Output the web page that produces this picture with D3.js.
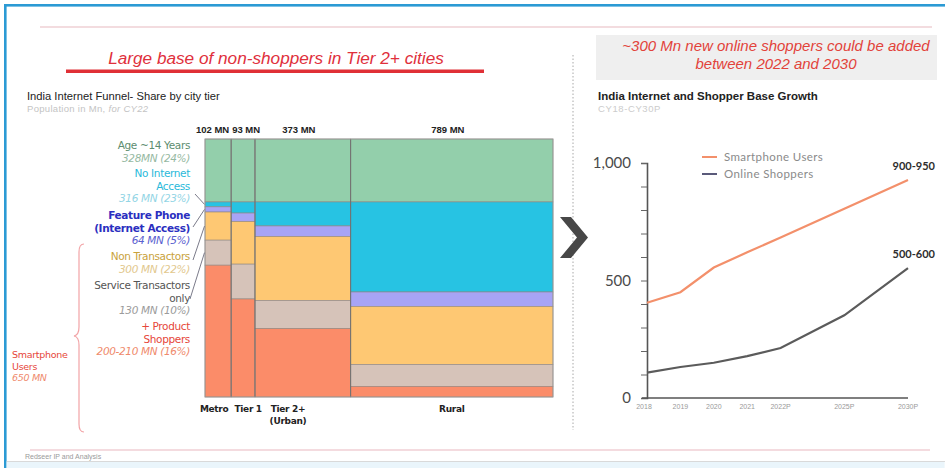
<!DOCTYPE html>
<html>
<head>
<meta charset="utf-8">
<script src="https://cdn.jsdelivr.net/npm/d3@7"></script>
<style>
  html, body { margin: 0; padding: 0; background: #fff; }
  svg { display: block; font-family: "Liberation Sans", Arial, sans-serif; }
</style>
</head>
<body>
<svg id="chart" width="945" height="468"></svg>
<script>
// ---- Funnel (mosaic) data: population per city tier, CY22 ----
const tiers = ["Metro", "Tier 1", "Tier 2+", "Rural"];
const tierPopulation = [102, 93, 373, 789];
const tierTopLabels = ["102 MN", "93 MN", "373 MN", "789 MN"];
const segments = ["Age ~14 Years", "No Internet Access", "Feature Phone", "Non Transactors", "Service Transactors only", "Product Shoppers"];
// share (%) of each segment within a tier, top to bottom
const metroShare = [24.4, 1.9, 2.0, 10.9, 9.7, 51.1];
const tier1Share = [24.4, 4.3, 3.3, 16.5, 13.5, 38.0];
const tier2Share = [24.4, 9.3, 4.1, 24.8, 10.9, 26.5];
const ruralShare = [24.4, 34.9, 5.6, 22.5, 8.5, 4.1];
const segmentTotals = ["328MN (24%)", "316 MN (23%)", "64 MN (5%)", "300 MN (22%)", "130 MN (10%)", "200-210 MN (16%)"];

// ---- Growth data: CY18 - CY30P (Mn) ----
const years = [2018, 2019, 2020, 2021, 2022, 2025, 2030];
const yearLabels = ["2018", "2019", "2020", "2021", "2022P", "2025P", "2030P"];
const smartphoneUsers = [405, 450, 555, 620, 683, 805, 928];
const onlineShoppers = [108, 132, 150, 178, 213, 352, 553];
const endLabels = ["900-950", "500-600"];

const svg = d3.select("#chart");
const WIDE = '"DejaVu Sans", Verdana, sans-serif';

// ---- page frame ----
svg.append("rect").attr("x", 0).attr("y", 0).attr("width", 945).attr("height", 468).attr("fill", "#fff");
svg.append("rect").attr("x", 4).attr("y", 4).attr("width", 941).attr("height", 2.6).attr("fill", "#2b9ad4");
svg.append("rect").attr("x", 4).attr("y", 4).attr("width", 2.6).attr("height", 464).attr("fill", "#2b9ad4");
svg.append("rect").attr("x", 6.6).attr("y", 462).attr("width", 938).attr("height", 6).attr("fill", "#eaf5fb");
svg.append("line").attr("x1", 6.6).attr("x2", 945).attr("y1", 461.5).attr("y2", 461.5).attr("stroke", "#d9d9d9");
svg.append("line").attr("x1", 40).attr("x2", 932).attr("y1", 27).attr("y2", 27).attr("stroke", "#e8b9c0").attr("stroke-width", 1.2);
svg.append("line").attr("x1", 30).attr("x2", 930).attr("y1", 450).attr("y2", 450).attr("stroke", "#eab8bf").attr("stroke-width", 1.2);
svg.append("text").attr("x", 25).attr("y", 459).attr("font-size", 7).attr("fill", "#9a9a9a").text("Redseer IP and Analysis");

// dashed divider between the two panels
svg.append("line").attr("x1", 573).attr("x2", 573).attr("y1", 55).attr("y2", 430)
  .attr("stroke", "#a8a8a8").attr("stroke-dasharray", "1.5,2");

// ---- left panel headline ----
svg.append("text").attr("x", 276).attr("y", 64).attr("text-anchor", "middle")
  .attr("font-size", 17.2).attr("font-style", "italic").attr("fill", "#e0303c")
  .text("Large  base of non-shoppers in Tier 2+ cities");
svg.append("rect").attr("x", 66).attr("y", 69.5).attr("width", 418).attr("height", 3.5).attr("fill", "#e03036");

svg.append("text").attr("x", 27).attr("y", 100).attr("font-size", 11.2).attr("fill", "#222")
  .text("India Internet Funnel- Share by city tier");
svg.append("text").attr("x", 27).attr("y", 111.5).attr("font-size", 9.5).attr("letter-spacing", 0.3).attr("fill", "#c4c4c4")
  .html('Population in Mn, <tspan font-style="italic">for CY22</tspan>');

// ---- mosaic ----
const shares = [metroShare, tier1Share, tier2Share, ruralShare];
const segColors = ["#93cfab", "#27c3e3", "#a8a4f5", "#fec873", "#d6c3b9", "#fb8c69"];
const totalPop = d3.sum(tierPopulation);
const xM = d3.scaleLinear().domain([0, totalPop]).range([205, 553]);
const yM = d3.scaleLinear().domain([0, 100]).range([139, 397]);
const cumPop = d3.cumsum([0].concat(tierPopulation));

const cells = [];
tiers.forEach((t, i) => {
  const cum = d3.cumsum([0].concat(shares[i]));
  shares[i].forEach((s, j) => {
    cells.push({ tier: i, seg: j, x0: cumPop[i], x1: cumPop[i + 1], y0: cum[j], y1: cum[j + 1] });
  });
});

const mosaic = svg.append("g");
mosaic.selectAll("rect.cell").data(cells).join("rect")
  .attr("class", "cell")
  .attr("x", d => xM(d.x0)).attr("width", d => xM(d.x1) - xM(d.x0))
  .attr("y", d => yM(d.y0)).attr("height", d => yM(d.y1) - yM(d.y0))
  .attr("fill", d => segColors[d.seg])
  .attr("stroke", "#8f8680").attr("stroke-width", 0.6);

// column dividers
mosaic.selectAll("line.col").data(cumPop.slice(1, -1)).join("line")
  .attr("class", "col")
  .attr("x1", d => xM(d)).attr("x2", d => xM(d))
  .attr("y1", yM(0)).attr("y2", yM(100))
  .attr("stroke", "#6f6f6f").attr("stroke-width", 1);
mosaic.append("rect").attr("x", xM(0)).attr("y", yM(0))
  .attr("width", xM(totalPop) - xM(0)).attr("height", yM(100) - yM(0))
  .attr("fill", "none").attr("stroke", "#9a9a9a").attr("stroke-width", 0.8);

// population labels above each column
const anchors = ["end", "start", "middle", "middle"];
svg.selectAll("text.pop").data(tierTopLabels).join("text")
  .attr("class", "pop")
  .attr("x", (d, i) => anchors[i] === "end" ? xM(cumPop[i + 1]) - 2 : anchors[i] === "start" ? xM(cumPop[i]) + 1 : (xM(cumPop[i]) + xM(cumPop[i + 1])) / 2 - 4)
  .attr("y", 133).attr("text-anchor", (d, i) => anchors[i])
  .attr("font-size", 9.5).attr("font-weight", "bold").attr("fill", "#222")
  .text(d => d);

// tier names below
const tierLines = [["Metro"], ["Tier 1"], ["Tier 2+", "(Urban)"], ["Rural"]];
const tierLabelX = tiers.map((t, i) => i === 0 ? xM(cumPop[1]) - 17 : i === 1 ? xM(cumPop[1]) + 17 : i === 2 ? xM(cumPop[2]) + 33 : (xM(cumPop[3]) + xM(cumPop[4])) / 2);
tierLines.forEach((lines, i) => {
  const t = svg.append("text").attr("x", tierLabelX[i]).attr("y", 411.5).attr("text-anchor", "middle")
    .attr("font-family", WIDE).attr("font-size", 9).attr("font-weight", "bold")
    .attr("letter-spacing", -0.3).attr("fill", "#222");
  lines.forEach((l, k) => t.append("tspan").attr("x", tierLabelX[i]).attr("dy", k ? 12 : 0).text(l));
});

// segment labels on the left of the mosaic
const segLabelLines = [["Age ~14 Years"], ["No Internet", "Access"], ["Feature Phone", "(Internet Access)"], ["Non Transactors"], ["Service Transactors", "only"], ["+ Product", "Shoppers"]];
const segLabelColor = ["#5d8d70", "#2ab9da", "#2b2fc0", "#c9a23c", "#555555", "#e6463a"];
const segValueColor = ["#96b9a2", "#93d5e5", "#5a60cf", "#e2c88e", "#9b9b9b", "#ef8a6c"];
const segLabelTop = [149, 177, 219, 260, 289, 330];
const lineStep = 12.5;
segLabelLines.forEach((lines, j) => {
  const g = svg.append("g").attr("font-family", WIDE);
  lines.forEach((l, k) => {
    g.append("text").attr("x", 190).attr("y", segLabelTop[j] + k * lineStep).attr("text-anchor", "end")
      .attr("font-size", 10.5).attr("letter-spacing", -0.35)
      .attr("font-weight", j === 2 ? "bold" : "normal").attr("fill", segLabelColor[j]).text(l);
  });
  g.append("text").attr("x", 190).attr("y", segLabelTop[j] + lines.length * lineStep).attr("text-anchor", "end")
    .attr("font-size", 10.5).attr("letter-spacing", -0.35)
    .attr("font-style", "italic").attr("fill", segValueColor[j]).text(segmentTotals[j]);
});

// connectors from labels to the Metro column
const metroCum = d3.cumsum([0].concat(metroShare));
const connectors = [
  { seg: 1, from: [195, 194] },
  { seg: 2, from: [193, 227] },
  { seg: 3, from: [193, 260] },
  { seg: 4, from: [190, 299] }
];
svg.selectAll("line.conn").data(connectors).join("line")
  .attr("class", "conn")
  .attr("x1", d => d.from[0]).attr("y1", d => d.from[1])
  .attr("x2", xM(0) - 0.5).attr("y2", d => yM((metroCum[d.seg] + metroCum[d.seg + 1]) / 2))
  .attr("stroke", "#7b7b8a").attr("stroke-width", 1);

// smartphone users brace
svg.append("path")
  .attr("d", "M84,244 Q79,244 79,252 L79,327 Q79,335 74,336 Q79,337 79,345 L79,424 Q79,432 84,432")
  .attr("fill", "none").attr("stroke", "#f2a3a6").attr("stroke-width", 1.2);
const su = svg.append("g").attr("font-size", 9.5).attr("font-family", WIDE).attr("letter-spacing", -0.3);
su.append("text").attr("x", 12).attr("y", 358).attr("fill", "#e6463a").text("Smartphone");
su.append("text").attr("x", 12).attr("y", 369.5).attr("fill", "#e6463a").text("Users");
su.append("text").attr("x", 12).attr("y", 381).attr("fill", "#ef8a6c").attr("font-style", "italic").text("650 MN");

// chevron between panels
svg.append("path").attr("d", "M560,217 L571,217 L588,237.5 L571,258 L560,258 L577,237.5 Z").attr("fill", "#474747");

// ---- right panel headline box ----
svg.append("rect").attr("x", 596).attr("y", 35).attr("width", 341).attr("height", 45).attr("fill", "#efefef");
const hl = svg.append("text").attr("text-anchor", "middle").attr("font-size", 15)
  .attr("font-style", "italic").attr("fill", "#e2423a");
hl.append("tspan").attr("x", 776).attr("y", 51).text("~300 Mn new online shoppers could be added");
hl.append("tspan").attr("x", 776).attr("y", 69).text("between 2022 and 2030");

svg.append("text").attr("x", 598).attr("y", 99.5).attr("font-size", 11.5).attr("font-weight", "bold")
  .attr("fill", "#222").text("India Internet and Shopper Base Growth");
svg.append("text").attr("x", 598).attr("y", 111.5).attr("font-size", 9.5).attr("letter-spacing", 0.6)
  .attr("fill", "#cccccc").text("CY18-CY30P");

// ---- line chart ----
const xL = d3.scaleLinear().domain([2018, 2022, 2025, 2030]).range([647, 780.6, 844.3, 908]);
const yL = d3.scaleLinear().domain([0, 1000]).range([398, 163]);

const yAxis = d3.axisLeft(yL).tickValues(d3.range(0, 1001, 100)).tickSize(6).tickFormat("");
const gy = svg.append("g").attr("transform", "translate(647,0)").call(yAxis);
gy.select(".domain").attr("stroke", "#555").attr("stroke-width", 1.6);
gy.selectAll(".tick line").attr("stroke", "#666").attr("stroke-width", 1);
svg.selectAll("text.ytl").data([0, 500, 1000]).join("text")
  .attr("class", "ytl").attr("x", 631).attr("y", d => yL(d)).attr("dy", "0.36em")
  .attr("text-anchor", "end").attr("font-family", "Lato, sans-serif").attr("font-size", 15)
  .attr("fill", "#4a4a4a").text(d => d3.format(",")(d));

svg.append("line").attr("x1", 642).attr("x2", 908).attr("y1", yL(0)).attr("y2", yL(0))
  .attr("stroke", "#555").attr("stroke-width", 1.6);
svg.selectAll("text.xtl").data(years).join("text")
  .attr("class", "xtl").attr("x", d => xL(d) - (d === 2018 ? 3 : 0)).attr("y", 409)
  .attr("text-anchor", "middle").attr("font-size", 7).attr("fill", "#9a9a9a")
  .text((d, i) => yearLabels[i]);

const lineGen = d3.line().x((d, i) => xL(years[i])).y(d => yL(d));
svg.append("path").datum(smartphoneUsers).attr("d", lineGen)
  .attr("fill", "none").attr("stroke", "#f3906b").attr("stroke-width", 2.2);
svg.append("path").datum(onlineShoppers).attr("d", lineGen)
  .attr("fill", "none").attr("stroke", "#5b5b5b").attr("stroke-width", 2.2);

// end-of-line range labels
const endSeries = [smartphoneUsers, onlineShoppers];
svg.selectAll("text.end").data(endLabels).join("text")
  .attr("class", "end").attr("x", 935).attr("y", (d, i) => yL(endSeries[i][endSeries[i].length - 1]) - 10)
  .attr("text-anchor", "end").attr("font-family", "Lato, sans-serif").attr("font-size", 11)
  .attr("font-weight", "bold").attr("fill", "#2d2d2d").text(d => d);

// legend
const legendItems = [{ name: "Smartphone Users", color: "#f3906b" }, { name: "Online Shoppers", color: "#5a5a7a" }];
const lg = svg.selectAll("g.lg").data(legendItems).join("g").attr("class", "lg")
  .attr("transform", (d, i) => `translate(702,${157 + i * 17})`);
lg.append("line").attr("x1", 0).attr("x2", 15).attr("stroke", d => d.color).attr("stroke-width", 2);
lg.append("text").attr("x", 22).attr("dy", "0.35em").attr("font-family", "Lato, sans-serif")
  .attr("font-size", 11.5).attr("letter-spacing", 0.4).attr("fill", "#8a8a8a").text(d => d.name);
</script>
</body>
</html>
